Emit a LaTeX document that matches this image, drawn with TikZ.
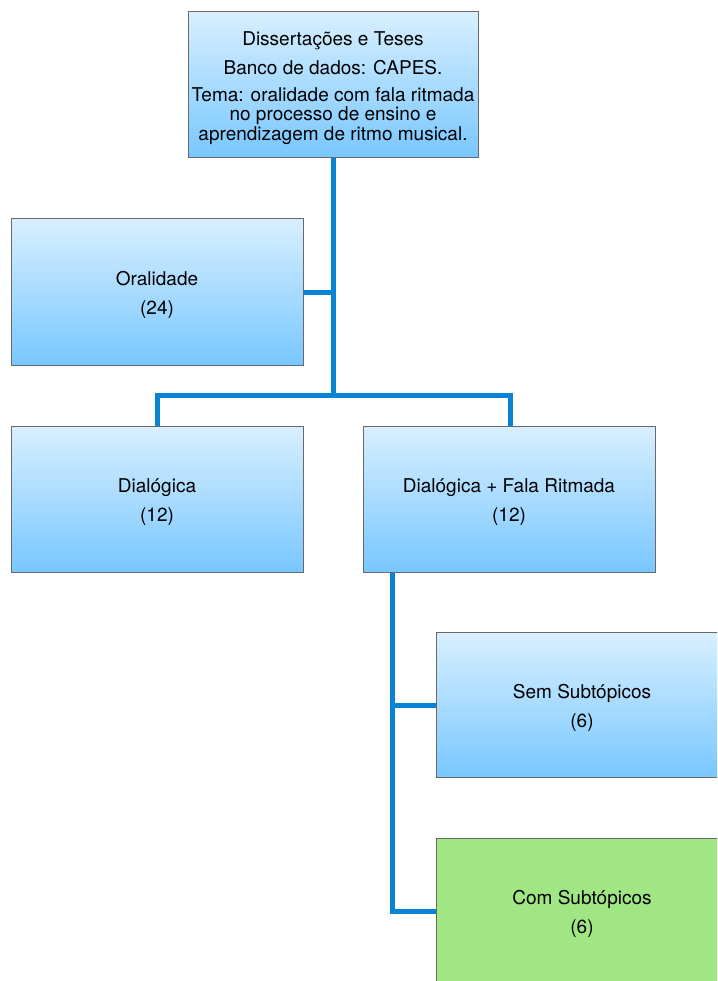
\documentclass[tikz,border=0pt]{standalone}
\usepackage{fontspec}
\setmainfont{TeX Gyre Heros}
\definecolor{boxtop}{RGB}{216,239,255}
\definecolor{boxbot}{RGB}{120,199,255}
\definecolor{boxline}{RGB}{105,105,105}
\definecolor{greenfill}{RGB}{160,230,132}
\definecolor{linkblue}{RGB}{8,132,214}
\tikzset{
  bluebox/.style={draw=boxline, line width=1pt, top color=boxtop, bottom color=boxbot,
    minimum width=292pt, minimum height=146pt, inner sep=0pt},
  greenbox/.style={bluebox, top color=greenfill, bottom color=greenfill, fill=greenfill},
  boxtext/.style={inner sep=0pt, align=center, yshift=-3pt,
    font=\fontsize{19}{19.5}\selectfont, text=black},
  link/.style={draw=linkblue, line width=5pt, line join=miter}
}
\begin{document}
\begin{tikzpicture}[x=1pt,y=-1pt]
\useasboundingbox (0,0) rectangle (717,981);
\clip (0,0) rectangle (717,981);
% connectors
\coordinate (j) at (333,395);
\coordinate (b) at (392,572);
\draw[link] (333,158) -- (j);
\draw[link] (303,292) -- (333,292);
\draw[link] (157,426) -- (157,395) -- (510,395) -- (510,426);
\draw[link] (b) |- (436,911);
\draw[link] (392,705) -- (436,705);
% boxes
\node[bluebox, minimum width=290pt] (top) at (333,85) {};
\node[boxtext] (toptext) at (top.center) {Dissertações e Teses\\[9.5pt]Banco de dados: CAPES.\\[7.5pt]Tema: oralidade com fala ritmada\\no processo de ensino e\\aprendizagem de ritmo musical.};
\node[bluebox] (ora) at (157,292) {};
\node[boxtext] (oratext) at (ora.center) {Oralidade\\[9.5pt](24)};
\node[bluebox] (dia) at (157,499) {};
\node[boxtext] (diatext) at (dia.center) {Dialógica\\[9.5pt](12)};
\node[bluebox] (dfr) at (509,499) {};
\node[boxtext] (dfrtext) at (dfr.center) {Dialógica + Fala Ritmada\\[9.5pt](12)};
\node[bluebox, minimum height=145pt] (sem) at (582,705) {};
\node[boxtext] (semtext) at (sem.center) {Sem Subtópicos\\[9.5pt](6)};
\node[greenbox] (com) at (582,911) {};
\node[boxtext] (comtext) at (com.center) {Com Subtópicos\\[9.5pt](6)};
\end{tikzpicture}
\end{document}
